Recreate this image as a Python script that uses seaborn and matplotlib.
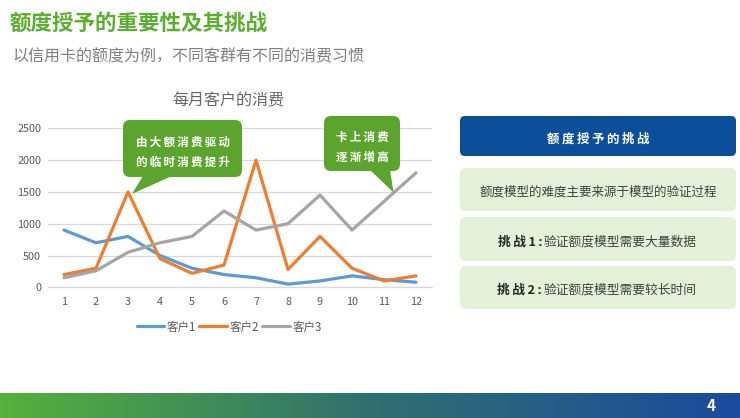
import matplotlib
matplotlib.use("Agg")
import matplotlib.pyplot as plt
import seaborn as sns
import numpy as np
import pandas as pd
from matplotlib.patches import FancyBboxPatch, Polygon
from matplotlib.colors import LinearSegmentedColormap
from matplotlib.lines import Line2D

sns.set_theme(style="white")
plt.rcParams['font.family'] = ['Noto Sans CJK SC', 'DejaVu Sans']

# ---------------- data ----------------
months = list(range(1, 13))
customer1 = [900, 700, 800, 500, 300, 200, 150, 50, 100, 180, 120, 80]
customer2 = [200, 300, 1500, 450, 220, 350, 2000, 280, 800, 300, 100, 180]
customer3 = [150, 260, 550, 700, 800, 1200, 900, 1000, 1450, 900, 1350, 1800]
series_names = ["客户1", "客户2", "客户3"]
y_ticks = [0, 500, 1000, 1500, 2000, 2500]

title = "额度授予的重要性及其挑战"
subtitle = "以信用卡的额度为例，不同客群有不同的消费习惯"
chart_title = "每月客户的消费"
callout1 = ["由大额消费驱动", "的临时消费提升"]
callout2 = ["卡上消费", "逐渐增高"]
panel_header = "额度授予的挑战"
panel_item0 = "额度模型的难度主要来源于模型的验证过程"
panel_items = [("挑战1:", "验证额度模型需要大量数据"),
               ("挑战2:", "验证额度模型需要较长时间")]
page_no = "4"

df = pd.DataFrame({
    "月份": months * 3,
    "消费": customer1 + customer2 + customer3,
    "客户": [series_names[0]] * 12 + [series_names[1]] * 12 + [series_names[2]] * 12,
})
palette = {"客户1": "#5B9BD5", "客户2": "#ED7D31", "客户3": "#A5A5A5"}

W, H = 740, 418
fig = plt.figure(figsize=(W / 100, H / 100), dpi=100)
fig.patch.set_facecolor("white")

def fx(px):
    return px / W

def fy(py):
    return 1 - py / H

# chart axes: plot area x 48..432, y 128.3..287.3 px
ax = fig.add_axes([fx(48), fy(287.3), fx(432) - fx(48), (287.3 - 128.3) / H])
sns.lineplot(data=df, x="月份", y="消费", hue="客户", palette=palette,
             linewidth=2.3, ax=ax, legend=False)
ax.set_xlim(0.5, 12.5)
ax.set_ylim(0, 2500)
ax.set_xticks(months)
ax.set_yticks(y_ticks)
ax.set_xlabel("")
ax.set_ylabel("")
ax.grid(axis="y", color="#D9D9D9", linewidth=0.9)
ax.set_axisbelow(True)
for s in ["top", "right", "left"]:
    ax.spines[s].set_visible(False)
ax.spines["bottom"].set_color("#D9D9D9")
ax.spines["bottom"].set_linewidth(0.9)
ax.tick_params(axis="both", length=0, labelsize=7.8, colors="#595959", pad=7)
ax.tick_params(axis="y", pad=5)

handles = [Line2D([0], [0], color=palette[n], linewidth=2.3) for n in series_names]
leg = fig.legend(handles, series_names, loc="center", bbox_to_anchor=(fx(229), fy(327)),
                 ncol=3, frameon=False, fontsize=8.3, handlelength=2.4,
                 columnspacing=0.3, handletextpad=0.2)
for t in leg.get_texts():
    t.set_color("#595959")

fig.text(fx(228), fy(101), chart_title, ha="center", va="center",
         fontsize=11.5, color="#666666")

# overlay axes in pixel coords
ov = fig.add_axes([0, 0, 1, 1], zorder=5)
ov.set_xlim(0, W)
ov.set_ylim(H, 0)
ov.axis("off")
ov.patch.set_alpha(0)

def data_to_px(x, y):
    d = ax.transData.transform((x, y))
    return d[0], H - d[1]

# titles
ov.text(10, 23, title, fontsize=15.5, fontweight="bold", color="#5BAE30",
        ha="left", va="center")
ov.text(12, 57, subtitle, fontsize=11.5, color="#7F7F7F", ha="left", va="center")

CG = "#5BA52E"

def callout(x0, y0, x1, y1, base, tip, lines, ys, cx):
    box = FancyBboxPatch((x0, y0), x1 - x0, y1 - y0,
                         boxstyle="round,pad=0,rounding_size=7",
                         facecolor=CG, edgecolor="none", zorder=6)
    ov.add_patch(box)
    tail = Polygon([(base[0], y1 - 1), (base[1], y1 - 1), tip], closed=True,
                   facecolor=CG, edgecolor="none", zorder=6)
    ov.add_patch(tail)
    for s, yy in zip(lines, ys):
        ov.text(cx, yy, "\u2009".join(s), color="white", fontsize=8.3,
                fontweight="bold", ha="center", va="center", zorder=7)

tx, ty = data_to_px(3, 1500)
callout(123, 120, 242, 177, (143, 172), (tx + 4, ty + 2), callout1, [142, 162], 182.5)
tx2, ty2 = data_to_px(11.3, 1490)
callout(324, 116, 400, 171, (370, 390), (tx2, ty2), callout2, [137, 157], 362)

# right panel
hdr = FancyBboxPatch((460, 116), 276, 40, boxstyle="round,pad=0,rounding_size=5",
                     facecolor="#0B4E9A", edgecolor="none")
ov.add_patch(hdr)
ov.text(598, 139, "\u2009".join(panel_header), color="white", fontsize=9,
        fontweight="bold", ha="center", va="center")

boxes = [(168, 211), (217, 261), (266, 309)]
for (ya, yb) in boxes:
    ov.add_patch(FancyBboxPatch((460, ya), 276, yb - ya,
                                boxstyle="round,pad=0,rounding_size=6",
                                facecolor="#E3F1D9", edgecolor="none"))
ov.text(598, 192, panel_item0, color="#404040", fontsize=9, ha="center", va="center")
for (bold, rest), yy in zip(panel_items, [242, 290]):
    b = bold.replace("挑战", "挑\u2009战\u2009").replace(":", "\u2009:")
    ov.text(542, yy, b, color="#262626", fontsize=9.2, fontweight="bold",
            ha="right", va="center")
    ov.text(544, yy, rest, color="#404040", fontsize=9.2, ha="left", va="center")

# bottom gradient bar
cmap = LinearSegmentedColormap.from_list("g", ["#55B13A", "#2F7070", "#1B4A9E"])
grad = np.linspace(0, 1, 256).reshape(1, -1)
ov.imshow(grad, cmap=cmap, aspect="auto", extent=[0, W, 418, 393], zorder=1)
ov.set_xlim(0, W)
ov.set_ylim(H, 0)
ov.text(711, 406, page_no, color="white", fontsize=11, fontweight="bold",
        ha="center", va="center", zorder=3)

fig.savefig("out.png", dpi=100, facecolor="white")
